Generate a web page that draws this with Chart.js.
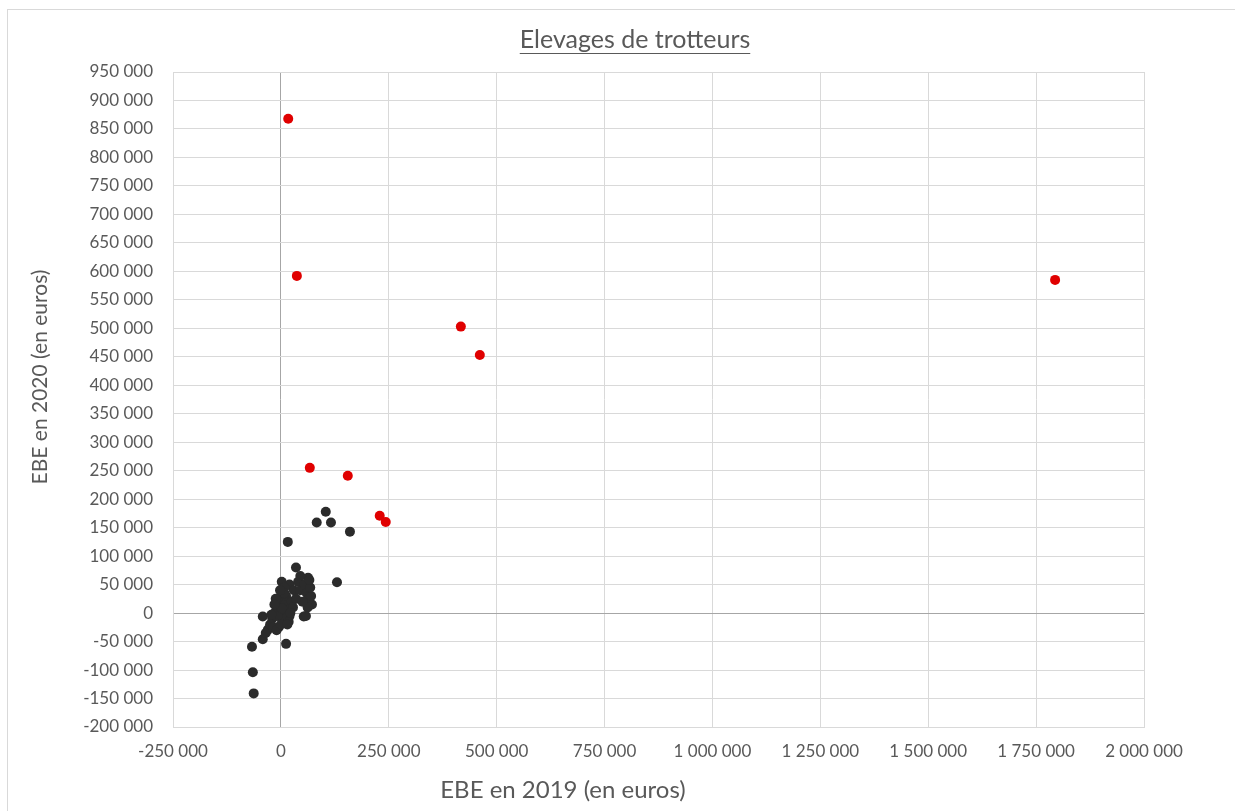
<!DOCTYPE html>
<html>
<head>
<meta charset="utf-8">
<script src="https://cdn.jsdelivr.net/npm/chart.js@4/dist/chart.umd.min.js"></script>
<style>
  html, body { margin: 0; padding: 0; background: #fff; }
  #wrap { width: 1235px; height: 811px; position: relative; }
</style>
</head>
<body>
<div id="wrap"><canvas id="chart"></canvas></div>
<script>
// EBE 2019 / EBE 2020, euros
const redX = [17000, 37000, 417000, 461000, 1794000, 67000, 155000, 229000, 243000];
const redY = [868000, 592000, 503000, 453000, 585000, 255000, 241000, 171000, 160000];

const blackX = [104000, 83000, 116000, 160000, 16000, 35000, 2000, 63000, 130000, -42000,
  -67000, 12000, -65000, -63000, 53000, 72000, -42000, -30000,
  0, 5000, -5000, 10000, -10000, 15000, -15000, 0, 20000, -20000,
  5000, -25000, 10000, -8000, 3000, 12000, 25000, 20000, 30000, 40000,
  45000, 55000, 60000, 65000, 62000, 58000, 50000, 70000, 35000, 28000,
  -35000, -5000, 18000, 8000, -12000, 45000, -22000,
  -18000, -10000, 0, 8000, -2000, 15000, 22000, -15000, 68000, 66000];
const blackY = [178000, 159000, 159000, 143000, 125000, 80000, 55000, 62000, 54000, -6000,
  -59000, -54000, -104000, -141000, -6000, 15000, -46000, -29000,
  30000, 25000, 20000, 15000, 10000, 5000, 0, 0, -5000, -10000,
  -15000, -20000, -10000, -5000, 8000, 30000, 20000, 50000, 40000, 55000,
  40000, 50000, 35000, 25000, 10000, -5000, 20000, 30000, 25000, 10000,
  -35000, -25000, -15000, 45000, 25000, 65000, -3000,
  -25000, -30000, -20000, 35000, 40000, -20000, 0, 15000, 45000, 58000];

const xMin = -250000, xMax = 2000000, xStep = 250000;
const yMin = -200000, yMax = 950000, yStep = 50000;

const chartTitle = 'Elevages de trotteurs';
const xTitle = 'EBE en 2019 (en euros)';
const yTitle = 'EBE en 2020 (en euros)';

function fmt(v) {
  const s = Math.abs(v).toString().replace(/\B(?=(\d{3})+(?!\d))/g, ' ');
  return (v < 0 ? '-' : '') + s;
}

const toPoints = (xs, ys) => xs.map((x, i) => ({x: x, y: ys[i]}));

const textColor = '#595959';
const gridColor = '#d9d9d9';
const zeroColor = '#a6a6a6';

const gridLine = (ctx) => ctx.tick && ctx.tick.value === 0 ? zeroColor : gridColor;

const decor = {
  id: 'decor',
  beforeDraw(chart) {
    const ctx = chart.ctx;
    ctx.save();
    ctx.strokeStyle = gridColor;
    ctx.lineWidth = 1;
    ctx.strokeRect(7.5, 9.5, 1300, 900);
    ctx.restore();
  },
  afterDraw(chart) {
    const ctx = chart.ctx;
    ctx.save();
    ctx.fillStyle = textColor;
    ctx.strokeStyle = textColor;
    ctx.textAlign = 'center';
    ctx.textBaseline = 'alphabetic';

    // title, underlined
    ctx.font = '25px Lato';
    ctx.fillText(chartTitle, 635, 48);
    const w = ctx.measureText(chartTitle).width;
    ctx.lineWidth = 1;
    ctx.beginPath();
    ctx.moveTo(635 - w / 2, 53.5);
    ctx.lineTo(635 + w / 2, 53.5);
    ctx.stroke();

    ctx.font = '24px Lato';
    ctx.fillText(xTitle, 563, 798);

    ctx.translate(47, 377);
    ctx.rotate(-Math.PI / 2);
    ctx.font = '21px Lato';
    ctx.fillText(yTitle, 0, 0);
    ctx.restore();
  }
};

new Chart(document.getElementById('chart'), {
  type: 'scatter',
  data: {
    datasets: [{
      label: 'rouge',
      data: toPoints(redX, redY),
      backgroundColor: '#e00000',
      borderColor: '#e00000',
      borderWidth: 0,
      pointRadius: 5,
      pointHoverRadius: 5
    }, {
      label: 'noir',
      data: toPoints(blackX, blackY),
      backgroundColor: '#2b2b2b',
      borderColor: '#2b2b2b',
      borderWidth: 0,
      pointRadius: 5,
      pointHoverRadius: 5
    }]
  },
  options: {
    responsive: true,
    maintainAspectRatio: false,
    animation: false,
    layout: { padding: { top: 72, left: 0, right: 91, bottom: 0 } },
    plugins: {
      legend: { display: false },
      tooltip: { enabled: false }
    },
    scales: {
      x: {
        type: 'linear',
        min: xMin, max: xMax,
        afterFit: (s) => { s.height = 84; },
        ticks: {
          stepSize: xStep,
          color: textColor,
          font: { family: 'Lato', size: 17 },
          padding: 14,
          maxRotation: 0,
          callback: (v) => fmt(v)
        },
        grid: { color: gridLine, drawTicks: false },
        border: { color: gridColor }
      },
      y: {
        type: 'linear',
        min: yMin, max: yMax,
        afterFit: (s) => { s.width = 173; },
        ticks: {
          stepSize: yStep,
          color: textColor,
          font: { family: 'Lato', size: 17 },
          padding: 20,
          callback: (v) => fmt(v)
        },
        grid: { color: gridLine, drawTicks: false },
        border: { color: gridColor }
      }
    }
  },
  plugins: [decor]
});
</script>
</body>
</html>
